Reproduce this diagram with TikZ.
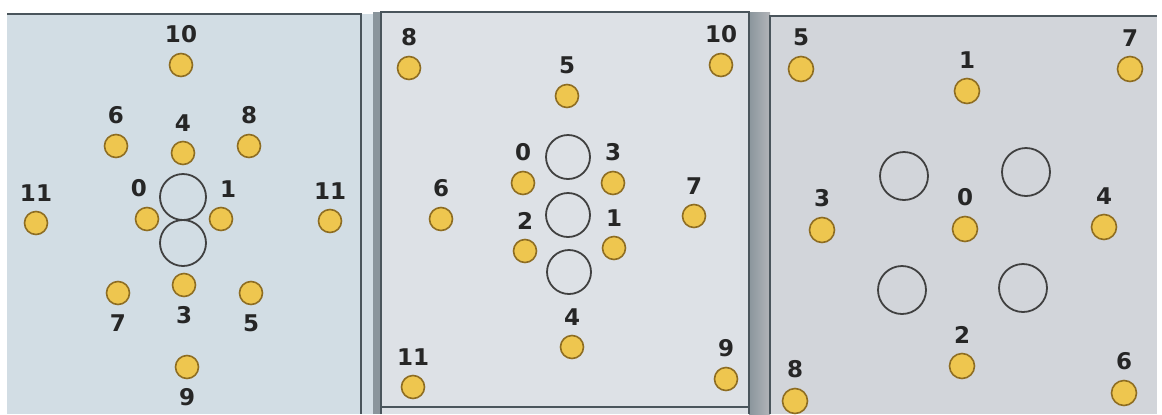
\documentclass[tikz,border=0pt]{standalone}
\usepackage{fontspec}
\setmainfont{DejaVu Sans}
\usepackage{xcolor}
\usetikzlibrary{positioning}
\definecolor{dotfill}{HTML}{EEC64F}
\definecolor{dotline}{HTML}{8E6D22}
\definecolor{paperA}{HTML}{D2DDE4}
\definecolor{paperB}{HTML}{DDE1E6}
\definecolor{paperC}{HTML}{D2D5DA}
\definecolor{gutter}{HTML}{8A959C}
\definecolor{edge}{HTML}{4A555C}
\tikzset{
  ball/.style={circle, draw=dotline, fill=dotfill, line width=0.8pt,
               minimum size=11.5pt, inner sep=0pt},
  ring/.style={circle, draw=black!75, line width=0.9pt, minimum size=23pt, inner sep=0pt},
  num/.style={font=\fontsize{11.5}{13}\selectfont\bfseries, inner sep=0pt, text=black!85},
  rim/.style={draw=edge, line width=1pt}
}
\begin{document}
\begin{tikzpicture}[x=0.5pt, y=-0.5pt, node distance=4.5pt]
\useasboundingbox (0,0) rectangle (1162,414);
% paper
\fill[paperA] (7,14) rectangle (373,414);
\fill[gutter] (373,12) rectangle (381,414);
\fill[paperB] (381,12) rectangle (749,414);
\shade[left color=gutter, right color=paperC!85!black] (749,12) rectangle (770,414);
\fill[paperC] (770,16) rectangle (1157,414);
\draw[rim] (7,14) -- (361,14) -- (361,414);
\draw[rim] (381,414) -- (381,12) -- (749,12) -- (749,414);
\draw[rim] (382,407) -- (749,407);
\draw[rim] (770,414) -- (770,16) -- (1157,16);

% left panel
\node[ring] (aup) at (183,197) {};
\node[ring] (adn) at (183,243) {};
\node[ball] (a10) at (181,65) {};
\node[num, above=of a10] (a10t) {10};
\node[ball] (a6) at (116,146) {};
\node[num, above=of a6] (a6t) {6};
\node[ball] (a4) at (183,153) {};
\node[num, above=of a4] (a4t) {4};
\node[ball] (a8) at (249,146) {};
\node[num, above=of a8] (a8t) {8};
\node[ball] (a11l) at (36,223) {};
\node[num, above=of a11l] (a11lt) {11};
\node[ball] (a0) at (147,219) {};
\node[num, above=of a0, xshift=-4pt] (a0t) {0};
\node[ball] (a1) at (221,219) {};
\node[num, above=of a1, xshift=3.5pt] (a1t) {1};
\node[ball] (a11r) at (330,221) {};
\node[num, above=of a11r] (a11rt) {11};
\node[ball] (a7) at (118,293) {};
\node[num, below=of a7] (a7t) {7};
\node[ball] (a3) at (184,285) {};
\node[num, below=of a3] (a3t) {3};
\node[ball] (a5) at (251,293) {};
\node[num, below=of a5] (a5t) {5};
\node[ball] (a9) at (187,367) {};
\node[num, below=of a9] (a9t) {9};

% middle panel
\node[ring, minimum size=22pt] (bup) at (568,157) {};
\node[ring, minimum size=22pt] (bmid) at (568,215) {};
\node[ring, minimum size=22pt] (bdn) at (569,272) {};
\node[ball] (b8) at (409,68) {};
\node[num, above=of b8] (b8t) {8};
\node[ball] (b10) at (721,65) {};
\node[num, above=of b10] (b10t) {10};
\node[ball] (b5) at (567,96) {};
\node[num, above=of b5] (b5t) {5};
\node[ball] (b0) at (523,183) {};
\node[num, above=of b0] (b0t) {0};
\node[ball] (b3) at (613,183) {};
\node[num, above=of b3] (b3t) {3};
\node[ball] (b6) at (441,219) {};
\node[num, above=of b6] (b6t) {6};
\node[ball] (b7) at (694,216) {};
\node[num, above=of b7] (b7t) {7};
\node[ball] (b2) at (525,251) {};
\node[num, above=of b2] (b2t) {2};
\node[ball] (b1) at (614,248) {};
\node[num, above=of b1] (b1t) {1};
\node[ball] (b4) at (572,347) {};
\node[num, above=of b4] (b4t) {4};
\node[ball] (b11) at (413,387) {};
\node[num, above=of b11] (b11t) {11};
\node[ball] (b9) at (726,379) {};
\node[num, above=of b9] (b9t) {9};

% right panel
\node[ring, minimum size=24pt] (cul) at (904,176) {};
\node[ring, minimum size=24pt] (cur) at (1026,172) {};
\node[ring, minimum size=24pt] (cll) at (902,290) {};
\node[ring, minimum size=24pt] (clr) at (1023,288) {};
\node[ball, minimum size=12.5pt] (c5) at (801,69) {};
\node[num, above=of c5] (c5t) {5};
\node[ball, minimum size=12.5pt] (c7) at (1130,69) {};
\node[num, above=of c7] (c7t) {7};
\node[ball, minimum size=12.5pt] (c1) at (967,91) {};
\node[num, above=of c1] (c1t) {1};
\node[ball, minimum size=12.5pt] (c3) at (822,230) {};
\node[num, above=of c3] (c3t) {3};
\node[ball, minimum size=12.5pt] (c0) at (965,229) {};
\node[num, above=of c0] (c0t) {0};
\node[ball, minimum size=12.5pt] (c4) at (1104,227) {};
\node[num, above=of c4] (c4t) {4};
\node[ball, minimum size=12.5pt] (c2) at (962,366) {};
\node[num, above=of c2] (c2t) {2};
\node[ball, minimum size=12.5pt] (c8) at (795,401) {};
\node[num, above=of c8] (c8t) {8};
\node[ball, minimum size=12.5pt] (c6) at (1124,393) {};
\node[num, above=of c6] (c6t) {6};
\end{tikzpicture}
\end{document}
